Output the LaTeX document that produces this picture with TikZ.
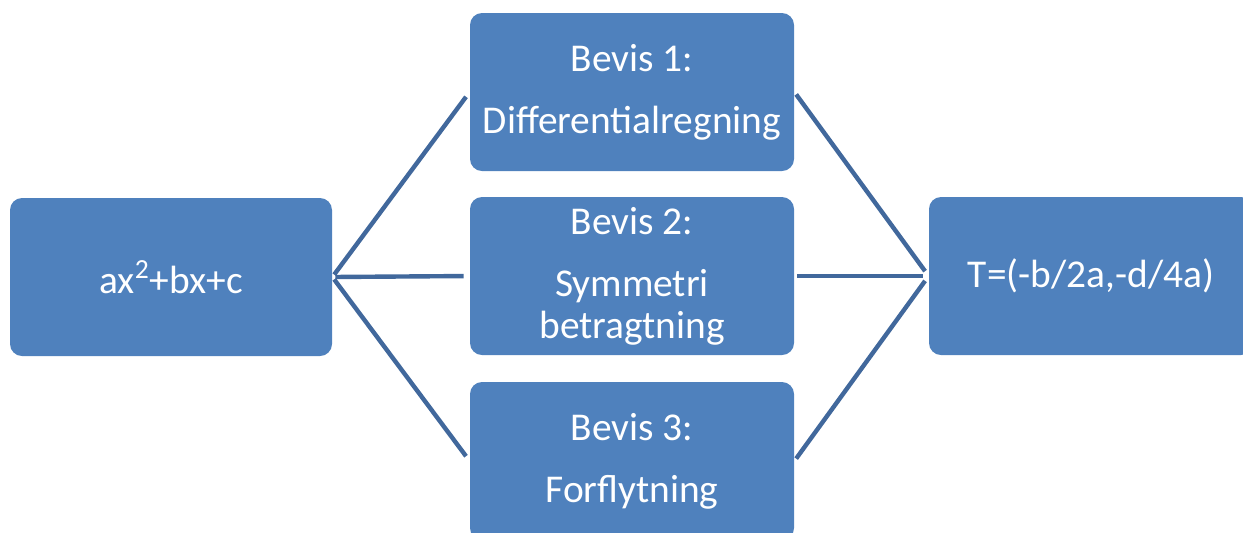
\documentclass[tikz,border=0pt]{standalone}
\usepackage{fontspec}
\setmainfont{Carlito}
\definecolor{boxblue}{HTML}{4F81BD}
\definecolor{lineblue}{HTML}{41689C}
\begin{document}
\begin{tikzpicture}[
		x = 0.5pt, y = -0.5pt,
		box/.style = {shape = rectangle, rounded corners = 6pt, fill = boxblue, text = white, minimum width = 162pt, minimum height = 79pt, inner sep = 0pt, align = center, font = \fontsize{19.7}{21}\selectfont},
		link/.style = {draw = lineblue, line width = 2.2pt, shorten < = 1.5pt, shorten > = 3pt}
	]
		\useasboundingbox (0,0) rectangle (1243,532);
		\node[box, minimum width = 161pt] (poly) at (171,277) {ax\textsuperscript{2}+bx+c};
		\node[box] (bevisA) at (632,92) {Bevis 1:\\[10pt] Differentialregning};
		\node[box] (bevisB) at (632,276) {Bevis 2:\\[10pt] Symmetri\\ betragtning};
		\node[box] (bevisC) at (632,461) {Bevis 3:\\[10pt] Forflytning};
		\node[box] (result) at (1091,276) {T=(-b/2a,-d/4a)};
		\foreach \b in {bevisA, bevisB, bevisC} {
			\draw[link] (poly.east) -- (\b.west);
			\draw[link] (\b.east) -- (result.west);
		}
	\end{tikzpicture}
\end{document}
